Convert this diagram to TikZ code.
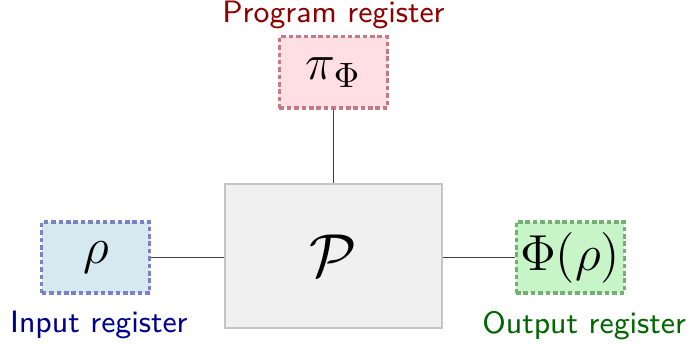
\documentclass[tikz,border=0pt]{standalone}
\usepackage{tikz}
\usepackage{amsmath}
\usetikzlibrary{shapes,arrows,fit,positioning}

\begin{document}
\begin{tikzpicture}[x=0.01cm,y=-0.01cm,
    reg/.style={line width=0.9pt,dash pattern=on 1.3pt off 0.8pt,inner sep=0pt,
                minimum width=1.08cm,minimum height=0.71cm,font=\Large},
    lab/.style={inner sep=0pt,font=\fontsize{8.8}{10}\selectfont\sffamily},
    wire/.style={line width=0.5pt,draw=black!75}]
\definecolor{inblue}{RGB}{212,233,240}
\definecolor{inborder}{RGB}{122,130,196}
\definecolor{prpink}{RGB}{255,222,228}
\definecolor{prborder}{RGB}{196,122,132}
\definecolor{outgreen}{RGB}{200,245,200}
\definecolor{outborder}{RGB}{116,176,116}
\definecolor{procgray}{RGB}{240,240,240}
\definecolor{procborder}{RGB}{196,196,196}
\useasboundingbox (0,0) rectangle (689,345);

\node[draw=procborder,fill=procgray,line width=0.8pt,minimum width=2.17cm,
      minimum height=1.44cm,font=\LARGE] (proc) at (333.5,256) {$\mathcal{P}$};
\node[reg,draw=inborder,fill=inblue,left=0.72cm of proc,yshift=-0.015cm] (input) {$\rho$};
\node[reg,draw=outborder,fill=outgreen,right=0.71cm of proc,yshift=-0.015cm] (output) {$\Phi(\rho)$};
\node[reg,draw=prborder,fill=prpink,above=0.73cm of proc] (program) {$\pi_\Phi$};

% register names
\node[lab,text=blue!55!black,below=0.16cm of input,xshift=0.03cm] (inputname) {Input register};
\node[lab,text=green!40!black,below=0.16cm of output,xshift=0.14cm] (outputname) {Output register};
\node[lab,text=red!55!black,above=0.06cm of program] (programname) {Program register};

\draw[wire] (input) -- (input -| proc.west);
\draw[wire] (output -| proc.east) -- (output);
\draw[wire] (program) -- (proc);

\end{tikzpicture}
\end{document}
